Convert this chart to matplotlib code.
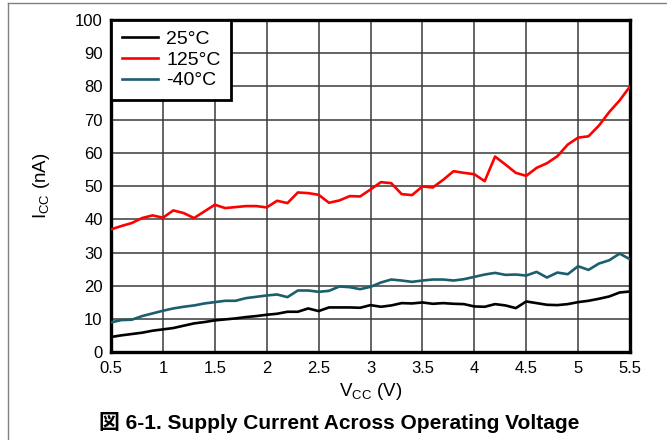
import matplotlib
matplotlib.use("Agg")
import matplotlib.pyplot as plt
from matplotlib.lines import Line2D
import numpy as np

plt.rcParams['font.family'] = ['Liberation Sans', 'Noto Sans CJK JP', 'DejaVu Sans']
plt.rcParams['mathtext.fontset'] = 'custom'
plt.rcParams['mathtext.rm'] = 'Liberation Sans'
plt.rcParams['mathtext.default'] = 'regular'

vcc = [0.5, 0.6, 0.7, 0.8, 0.9, 1.0, 1.1, 1.2, 1.3, 1.4, 1.5, 1.6, 1.7, 1.8, 1.9,
       2.0, 2.1, 2.2, 2.3, 2.4, 2.5, 2.6, 2.7, 2.8, 2.9, 3.0, 3.1, 3.2, 3.3, 3.4,
       3.5, 3.6, 3.7, 3.8, 3.9, 4.0, 4.1, 4.2, 4.3, 4.4, 4.5, 4.6, 4.7, 4.8, 4.9,
       5.0, 5.1, 5.2, 5.3, 5.4, 5.5]

icc_25 = [4.6, 5.1, 5.5, 5.9, 6.5, 6.9, 7.3, 8.0, 8.7, 9.1, 9.6, 9.9, 10.2, 10.6, 10.9,
          11.3, 11.6, 12.2, 12.2, 13.2, 12.4, 13.5, 13.5, 13.5, 13.4, 14.2, 13.7, 14.1, 14.8, 14.7,
          15.0, 14.6, 14.8, 14.6, 14.5, 13.8, 13.7, 14.5, 14.1, 13.3, 15.3, 14.8, 14.3, 14.2, 14.5,
          15.1, 15.5, 16.1, 16.8, 18.0, 18.3]

icc_125 = [37.0, 38.0, 38.9, 40.4, 41.2, 40.5, 42.7, 41.9, 40.4, 42.4, 44.4, 43.4, 43.7, 44.0, 44.0,
           43.6, 45.6, 44.9, 48.1, 47.9, 47.4, 45.0, 45.7, 47.0, 46.9, 49.0, 51.2, 50.9, 47.6, 47.3,
           49.9, 49.6, 51.9, 54.5, 54.0, 53.6, 51.5, 58.9, 56.5, 54.0, 53.1, 55.5, 56.9, 59.0, 62.5,
           64.6, 65.0, 68.2, 72.3, 75.8, 80.0]

icc_m40 = [9.0, 9.7, 9.8, 10.9, 11.7, 12.5, 13.2, 13.7, 14.1, 14.7, 15.1, 15.5, 15.5, 16.3, 16.7,
           17.1, 17.4, 16.6, 18.6, 18.6, 18.2, 18.5, 19.8, 19.6, 19.0, 19.7, 21.0, 21.9, 21.6, 21.2,
           21.6, 21.9, 21.9, 21.6, 22.0, 22.7, 23.4, 23.9, 23.3, 23.4, 23.1, 24.2, 22.5, 24.0, 23.5,
           25.9, 24.8, 26.7, 27.7, 29.7, 28.0]

series_labels = ['25°C', '125°C', '-40°C']
series_colors = ['#000000', '#ff0000', '#1b5e6c']

x_ticks = [0.5, 1, 1.5, 2, 2.5, 3, 3.5, 4, 4.5, 5, 5.5]
x_ticklabels = ['0.5', '1', '1.5', '2', '2.5', '3', '3.5', '4', '4.5', '5', '5.5']
y_ticks = [0, 10, 20, 30, 40, 50, 60, 70, 80, 90, 100]

fig = plt.figure(figsize=(6.67, 4.40), dpi=100)
ax = fig.add_axes([111/667, 1-352.3/440, 519/667, 332.3/440])

for ys, lab, col in zip([icc_25, icc_125, icc_m40], series_labels, series_colors):
    ax.plot(vcc, ys, color=col, lw=1.9, label=lab, zorder=3, solid_joinstyle='round')

ax.set_xlim(0.5, 5.5)
ax.set_ylim(0, 100)
ax.set_xticks(x_ticks)
ax.set_xticklabels(x_ticklabels)
ax.set_yticks(y_ticks)
ax.tick_params(length=0, labelsize=12, pad=6)
ax.grid(True, color='#3a3a3a', lw=1.1)
ax.set_axisbelow(True)
for s in ax.spines.values():
    s.set_linewidth(2.4)
    s.set_color('black')

ax.set_xlabel('V$_{CC}$ (V)', fontsize=13.5)
ax.set_ylabel('I$_{CC}$ (nA)', fontsize=13.5)
ax.xaxis.set_label_coords(0.5, -0.086)
ax.yaxis.set_label_coords(-0.114, 0.5)

leg = ax.legend(loc='upper left', fontsize=14, frameon=True, fancybox=False,
                borderaxespad=0, handlelength=1.85, handletextpad=0.45,
                labelspacing=0.15, borderpad=0.55)
leg.get_frame().set_edgecolor('black')
leg.get_frame().set_linewidth(2.0)
leg.get_frame().set_alpha(1)

fig.text(0.508, 1-422/440, '図 6-1. Supply Current Across Operating Voltage',
         ha='center', va='center', fontsize=15, fontweight='bold',
         family=['Liberation Sans', 'Noto Sans CJK JP'])

fig.add_artist(Line2D([8/667, 8/667], [0, 1-3/440], transform=fig.transFigure,
                      color='#808080', lw=1))
fig.add_artist(Line2D([8/667, 1], [1-3/440, 1-3/440], transform=fig.transFigure,
                      color='#808080', lw=1))

fig.savefig('out.png', dpi=100)
